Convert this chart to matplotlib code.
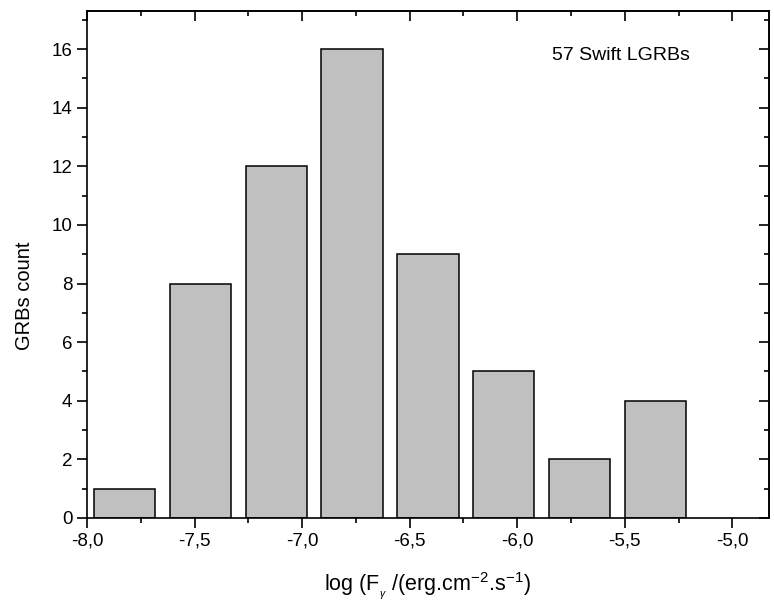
import numpy as np
import matplotlib
matplotlib.use("Agg")
import matplotlib.pyplot as plt
from matplotlib.ticker import MultipleLocator, FuncFormatter

plt.rcParams['font.family'] = ['Liberation Sans', 'DejaVu Sans']
plt.rcParams['mathtext.fontset'] = 'custom'
plt.rcParams['mathtext.rm'] = 'Liberation Sans'
plt.rcParams['mathtext.it'] = 'Liberation Sans:italic'

# histogram bins (log flux) and counts
bin_centers = [-7.825, -7.473, -7.120, -6.768, -6.415, -6.063, -5.711, -5.358]
counts = [1, 8, 12, 16, 9, 5, 2, 4]
bar_width = 0.285

fig = plt.figure(figsize=(7.74, 6.04), dpi=100)
ax = fig.add_axes([0.1124, 0.1424, 0.8811, 0.8394])

ax.bar(bin_centers, counts, width=bar_width, color='#c0c0c0',
       edgecolor='black', linewidth=1.1)

ax.set_xlim(-8.0, -4.83)
ax.set_ylim(0, 17.3)

ax.xaxis.set_major_locator(MultipleLocator(0.5))
ax.xaxis.set_minor_locator(MultipleLocator(0.25))
ax.yaxis.set_major_locator(MultipleLocator(2))
ax.yaxis.set_minor_locator(MultipleLocator(1))
ax.xaxis.set_major_formatter(FuncFormatter(lambda v, p: ('%.1f' % v).replace('.', ',')))

for s in ax.spines.values():
    s.set_linewidth(1.2)

ax.tick_params(which='major', direction='out', length=7, width=1.2, labelsize=13.5)
ax.tick_params(which='minor', direction='out', length=3.5, width=1.2)

# mirrored ticks on top/right, pointing inward
top = ax.secondary_xaxis('top')
top.xaxis.set_major_locator(MultipleLocator(0.5))
top.xaxis.set_minor_locator(MultipleLocator(0.25))
top.tick_params(which='major', direction='in', length=7, width=1.2, labeltop=False)
top.tick_params(which='minor', direction='in', length=3.5, width=1.2)
right = ax.secondary_yaxis('right')
right.yaxis.set_major_locator(MultipleLocator(2))
right.yaxis.set_minor_locator(MultipleLocator(1))
right.tick_params(which='major', direction='in', length=7, width=1.2, labelright=False)
right.tick_params(which='minor', direction='in', length=3.5, width=1.2)
top.spines['top'].set_linewidth(1.2)
right.spines['right'].set_linewidth(1.2)

ax.set_xlabel(r'log (F$_{_\gamma}$ /(erg.cm$^{-2}$.s$^{-1}$)', fontsize=15.5)
ax.set_ylabel('GRBs count', fontsize=14.5)
ax.xaxis.set_label_coords(0.499, -0.103)
ax.yaxis.set_label_coords(-0.078, 0.438)

ax.text(-5.518, 15.79, '57 Swift LGRBs', fontsize=14, ha='center', va='center')

fig.savefig('out.png', dpi=100)
